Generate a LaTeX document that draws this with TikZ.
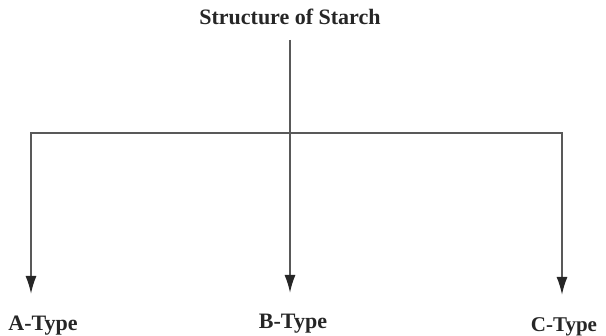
\documentclass[tikz,border=0pt]{standalone}
\usepackage{fontspec}
\setmainfont{Liberation Serif}
\usetikzlibrary{arrows.meta}
\begin{document}
\begin{tikzpicture}[x=1pt,y=-1pt,
  lbl/.style={font=\fontsize{22}{26}\selectfont\bfseries, text=black!85, inner sep=0pt},
  conn/.style={line width=1.8pt, draw=black!65},
  arr/.style={conn, -{Latex[length=18pt,width=11pt,color=black!85]}}]
\useasboundingbox (0,0) rectangle (606,336);
\node[lbl] (title) at (290,17) {Structure of Starch};
\node[lbl] (a) at (43,326) {A-Type};
\node[lbl] (b) at (293,324) {B-Type};
\node[lbl, font=\fontsize{21}{25}\selectfont\bfseries] (c) at (564,327) {C-Type};
\coordinate (top) at (290,40);
\coordinate (ljoin) at (31,133);
\coordinate (rjoin) at (562,133);
\coordinate (atip) at (31,294);
\coordinate (btip) at (290,293);
\coordinate (ctip) at (562,295);
\draw[arr] (top) -- (btip);
\draw[conn, line cap=rect] (ljoin) -- (rjoin);
\draw[arr] (ljoin) -- (atip);
\draw[arr] (rjoin) -- (ctip);
\end{tikzpicture}
\end{document}
